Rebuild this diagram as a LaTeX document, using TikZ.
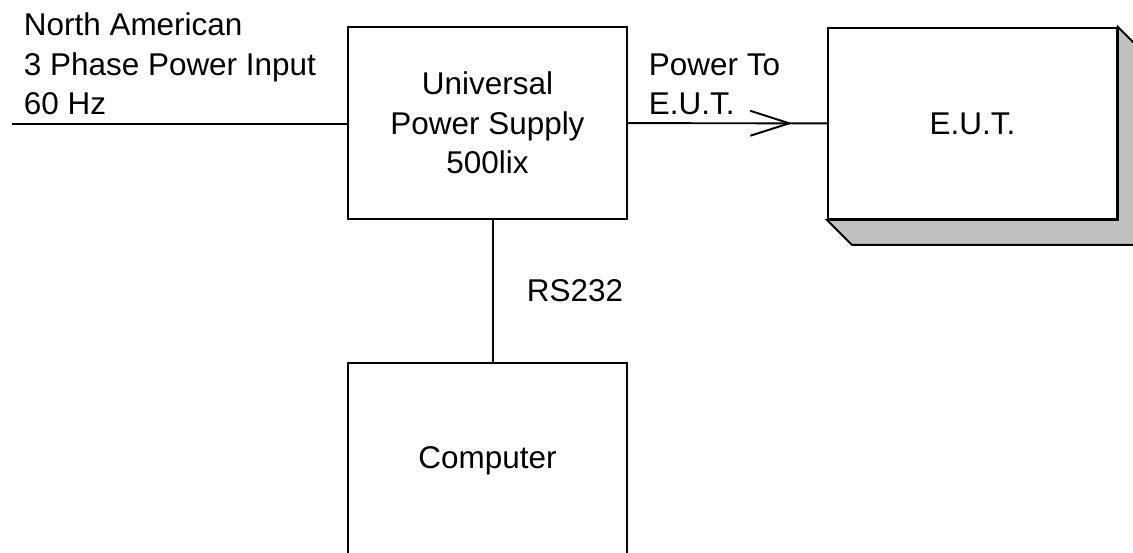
\documentclass[tikz,border=0pt]{standalone}
\usepackage{fontspec}
\setmainfont{Liberation Sans}
\usepackage{tikz}
\usetikzlibrary{arrows.meta,decorations.markings}
\usepackage{xcolor}
\definecolor{shadowgray}{RGB}{192,192,192}

\begin{document}
\begin{tikzpicture}[x=0.02cm,y=-0.02cm,line width=1.1pt,font=\fontsize{17.9}{22.4}\selectfont,
  box/.style={draw,fill=white,inner sep=0pt,align=center},
  lbl/.style={inner sep=0pt,anchor=north west,align=left},
  >={Straight Barb[length=0.78cm,width=0.5cm,line width=1.1pt]}]
\clip (0,0) rectangle (1133,552);
\node[box,minimum width=5.58cm,minimum height=3.84cm] (ups) at (487.5,123) {Universal\\Power Supply\\500lix};
\node[box,minimum width=5.78cm,minimum height=3.82cm] (eut) at (972.5,123.5) {E.U.T.};
\node[box,minimum width=5.58cm,minimum height=3.92cm] (pc) at (487.5,461) {Computer};
\draw[fill=shadowgray] (eut.north east) -- ([shift={(25,25)}]eut.north east) -- ([shift={(25,25)}]eut.south east)
  -- ([shift={(25,25)}]eut.south west) -- (eut.south west) -- (eut.south east) -- cycle;
\coordinate (mains) at (12,124);
\draw (mains) -- (ups.west |- mains);
\node[lbl] (lbl-in) at (23,12) {North American\\3 Phase Power Input\\60 Hz};
\draw[postaction={decorate},decoration={markings,mark=at position 0.826 with {\arrow{>}}}] (ups) -- (eut);
\node[lbl] (lbl-out) at (648,53) {Power To\\E.U.T.};
\draw ([xshift=0.11cm]ups.south) -- ([xshift=0.11cm]pc.north) node[midway,right=0.66cm,inner sep=0pt] (lbl-rs) {RS232};
\end{tikzpicture}
\end{document}
